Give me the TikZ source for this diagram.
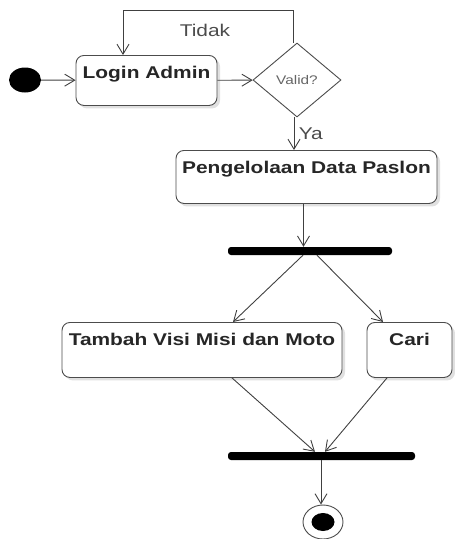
\documentclass[tikz,border=0pt]{standalone}
\usepackage{fontspec}
\setsansfont[FakeStretch=1.23]{Liberation Sans}
\usetikzlibrary{arrows.meta,positioning,shapes.geometric,shadows}

\begin{document}
\begin{tikzpicture}[x=1pt,y=-1pt,font=\sffamily\fontsize{17}{20}\selectfont,
    activity/.style={draw=black!70,line width=0.9pt,rounded corners=8pt,fill=white,anchor=north,
        font=\sffamily\bfseries\fontsize{17}{20}\selectfont,text=black!85,
        inner xsep=2pt,inner ysep=5pt,text height=18pt,
        drop shadow={shadow xshift=3pt,shadow yshift=-3pt,opacity=0.12,fill=black}},
    bar/.style={fill=black,rounded corners=3pt,minimum height=8pt,inner sep=0pt},
    flow/.style={draw=black!75,line width=0.9pt,-{Straight Barb[length=10pt,width=12pt]}},
    guard/.style={text=black!70}]
    \useasboundingbox (0,0) rectangle (455,539);

    \node [ellipse,fill=black,minimum width=32pt,minimum height=25pt,inner sep=0pt] (start) at (25,80) {};
    \node [activity,minimum width=141pt,text depth=22pt] (login) at (146.5,55) {Login Admin};
    \node [diamond,draw=black!70,line width=0.9pt,fill=white,minimum width=88pt,minimum height=74pt,inner sep=0pt,
        font=\sffamily\fontsize{12.5}{14}\selectfont,text=black!60] (valid) at (297,80) {Valid?};
    \node [activity,minimum width=261pt,text depth=25pt] (kelola) at (306.5,150) {Pengelolaan Data Paslon};
    \node [bar,minimum width=164pt] (fork) at (310,251) {};
    \node [activity,minimum width=280pt,text depth=27pt] (tambah) at (202,322) {Tambah Visi Misi dan Moto};
    \node [activity,minimum width=85pt,text depth=27pt] (cari) at (409.5,322) {Cari};
    \node [bar,minimum width=187pt] (join) at (321.5,456) {};
    \node [ellipse,draw=black!70,line width=0.9pt,minimum width=40pt,minimum height=34pt] (end) at (323,522) {};
    \node [ellipse,fill=black,minimum width=23pt,minimum height=18pt,inner sep=0pt] at (end) {};

    % alur
    \draw [flow] (start) -- (login);
    \draw [flow] (login) -- (valid);
    \draw [flow] ([xshift=-4pt]valid.north) -- ++(0,-32) -| ([xshift=-23.5pt]login.north);
    \node [guard] (tidak) at (205,30) {Tidak};
    \draw [flow] ([xshift=-3pt]valid.south) -- ([xshift=-3pt]valid.south |- kelola.north)
        node [guard,midway,right=1pt] (ya) {Ya};
    \draw [flow] ([xshift=-3pt]kelola.south) -- ([xshift=-3pt]kelola.south |- fork.north);
    \draw [flow] ([xshift=-7pt]fork.south) -- ([xshift=31pt]tambah.north);
    \draw [flow] ([xshift=7pt]fork.south) -- ([xshift=-26.5pt]cari.north);
    \draw [flow] ([xshift=30pt]tambah.south) -- ([xshift=-6.5pt]join.north);
    \draw [flow] ([xshift=-22.5pt]cari.south) -- ([xshift=3.5pt]join.north);
    \draw [flow] ([xshift=-0.5pt]join.south) -- ([xshift=-0.5pt]join.south |- end.north);
\end{tikzpicture}
\end{document}
